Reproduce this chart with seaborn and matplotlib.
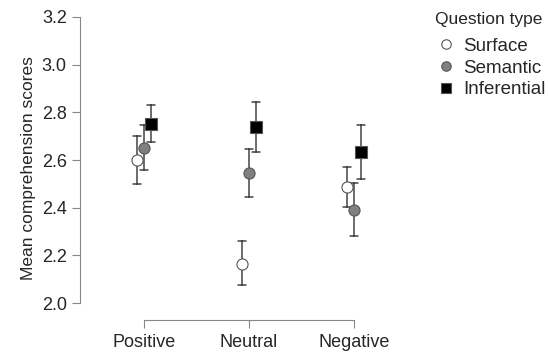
import numpy as np
import pandas as pd
import matplotlib
matplotlib.use("Agg")
import matplotlib.pyplot as plt
import seaborn as sns

# values
conditions = ["Positive", "Neutral", "Negative"]
qtypes = ["Surface", "Semantic", "Inferential"]

surface_mean = [2.60, 2.165, 2.485]
surface_lo = [2.50, 2.075, 2.405]
surface_hi = [2.70, 2.26, 2.57]

semantic_mean = [2.65, 2.545, 2.39]
semantic_lo = [2.56, 2.445, 2.28]
semantic_hi = [2.745, 2.645, 2.505]

inferential_mean = [2.75, 2.74, 2.635]
inferential_lo = [2.675, 2.635, 2.52]
inferential_hi = [2.83, 2.845, 2.745]

y_ticks = [2.0, 2.2, 2.4, 2.6, 2.8, 3.0, 3.2]

# long table: low / mean / high per cell -> median = mean, min/max = error bar
series = {
    "Surface": (surface_mean, surface_lo, surface_hi),
    "Semantic": (semantic_mean, semantic_lo, semantic_hi),
    "Inferential": (inferential_mean, inferential_lo, inferential_hi),
}
rows = []
for qt, (m, lo, hi) in series.items():
    for i, cond in enumerate(conditions):
        for v in (lo[i], m[i], hi[i]):
            rows.append({"Condition": cond, "Question type": qt, "score": v})
df = pd.DataFrame(rows)

sns.set_style("ticks")
plt.rcParams["font.family"] = ["Liberation Sans", "DejaVu Sans"]

fig = plt.figure(figsize=(5.5, 3.53), dpi=100)
ax = fig.add_axes([80 / 550, 33 / 353, 316 / 550, 303 / 353])

palette = {"Surface": "white", "Semantic": "#808080", "Inferential": "black"}
sns.pointplot(
    data=df, x="Condition", y="score", hue="Question type",
    order=conditions, hue_order=qtypes,
    estimator="median", errorbar=lambda v: (v.min(), v.max()),
    palette=palette, markers=["o", "o", "s"], linestyles="none",
    dodge=0.134, capsize=0.07,
    err_kws={"color": "#444444", "linewidth": 1.1},
    markersize=8, markeredgecolor="#555555", markeredgewidth=0.8,
    ax=ax,
)

# markers above the error bars
for ln in ax.lines:
    if ln.get_marker() not in (None, "None", ""):
        ln.set_zorder(5)

ax.set_ylim(1.929, 3.2)
ax.set_xlim(-0.61, 2.4)
ax.set_yticks(y_ticks)
ax.set_yticklabels([f"{t:.1f}" for t in y_ticks])
ax.set_xlabel("")
ax.set_ylabel("Mean comprehension scores", fontsize=12.5)
ax.tick_params(axis="both", labelsize=13, length=6, width=0.8, color="#888888")
ax.tick_params(axis="x", pad=4)
for s in ax.spines.values():
    s.set_color("#888888")
    s.set_linewidth(0.8)
sns.despine(ax=ax, trim=True)

handles, labels = ax.get_legend_handles_labels()
ax.get_legend().remove()
leg = fig.legend(handles, labels, title="Question type", loc="upper left",
                 bbox_to_anchor=(418 / 550, 1.015), frameon=False, fontsize=13.5,
                 title_fontsize=12.5, markerscale=0.85, alignment="left",
                 handletextpad=0.3, labelspacing=0.25, handlelength=1.2)
leg._legend_box.sep = 8  # a bit more room under the title

fig.savefig("out.png", dpi=100)
